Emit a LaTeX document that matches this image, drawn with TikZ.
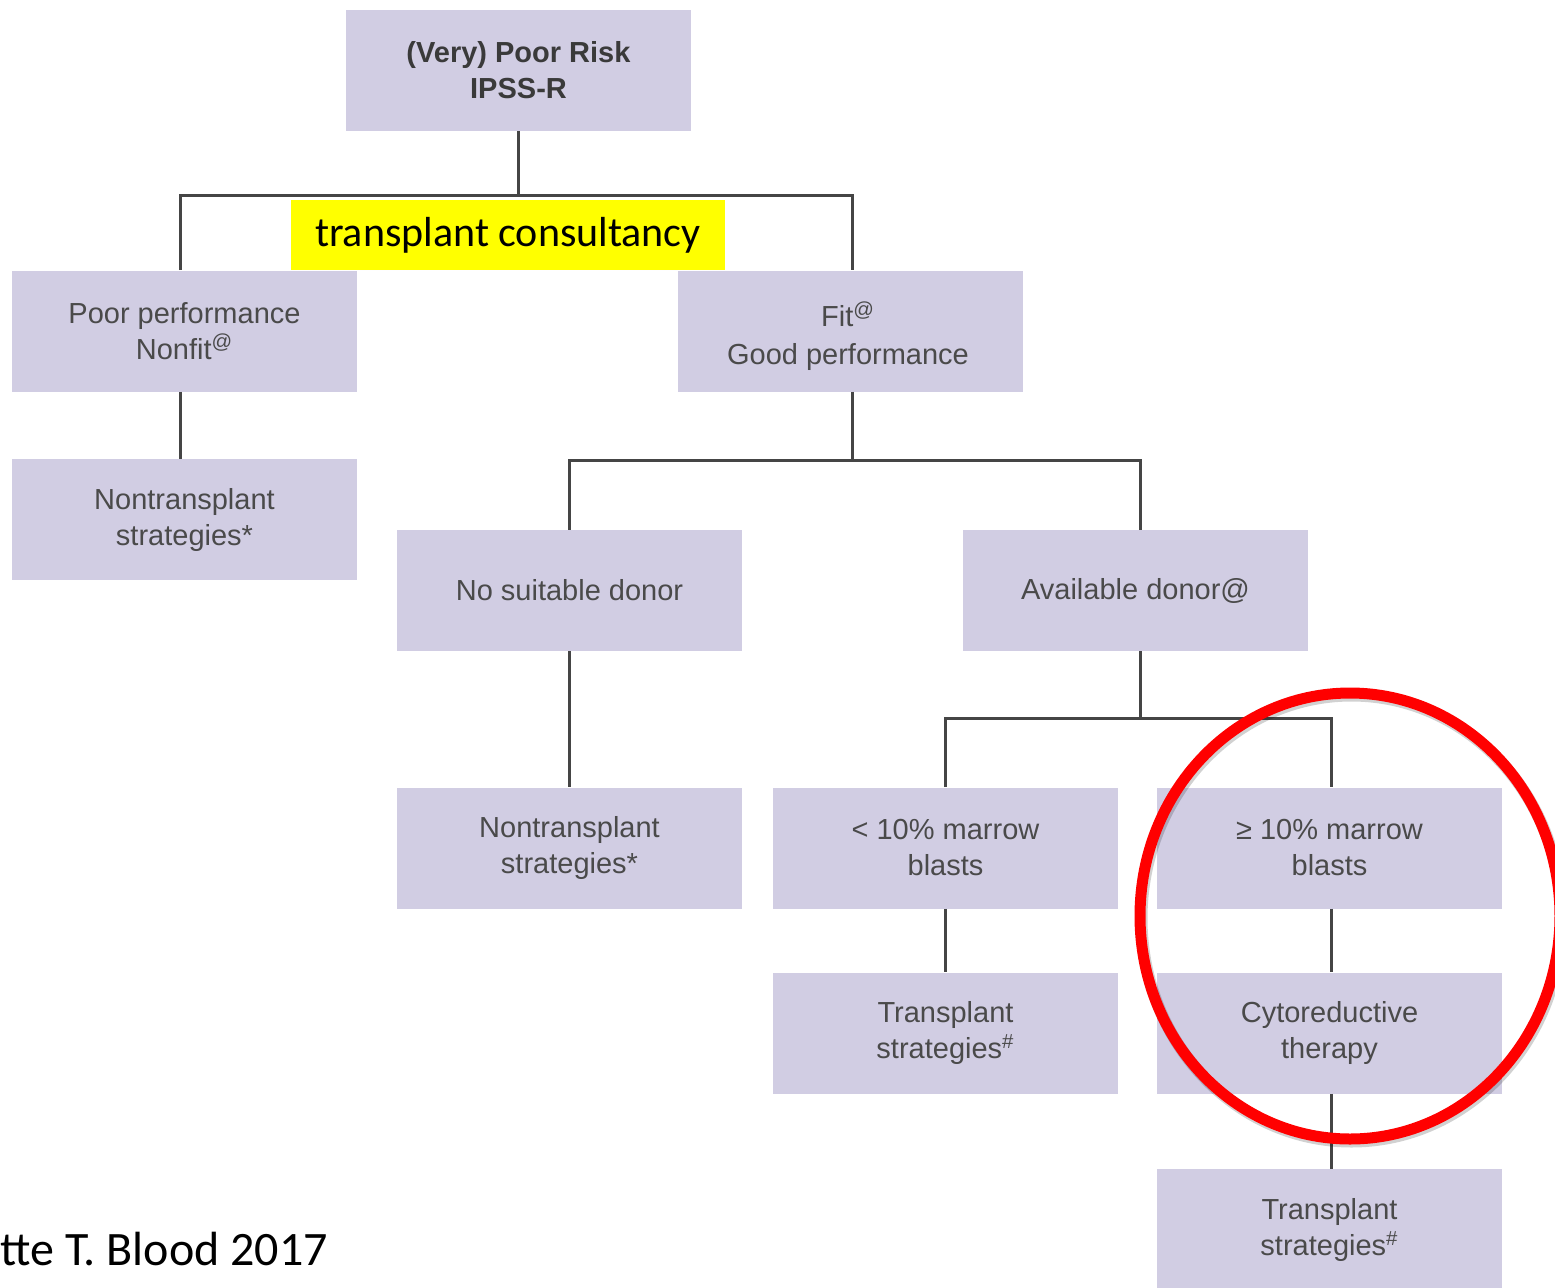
\documentclass[tikz,border=0pt]{standalone}
\usepackage{fontspec}
\setmainfont{Liberation Sans}
\newfontfamily\calibri{Carlito}
\definecolor{boxfill}{HTML}{D1CDE3}
\definecolor{boxtext}{HTML}{4A4A4A}
\definecolor{titletext}{HTML}{3A3A3A}
\definecolor{wirecol}{HTML}{454545}
\definecolor{hilite}{HTML}{FFFF00}
\definecolor{ringred}{HTML}{FF0000}

\begin{document}
\begin{tikzpicture}[x=0.5pt,y=-0.5pt,
  cell/.style={rectangle, fill=boxfill, minimum width=172.5pt, minimum height=60.5pt,
    inner sep=0pt, align=center, text=boxtext, font=\fontsize{14.5}{18}\selectfont},
  celltext/.style={inner sep=0pt, align=center, text=boxtext, font=\fontsize{14.5}{18}\selectfont},
  link/.style={draw=wirecol, line width=1.5pt},
  tag/.style={rectangle, fill=hilite, minimum width=217pt, minimum height=35pt,
    inner sep=0pt, text=black, font=\calibri\fontsize{21}{25}\selectfont}]

\useasboundingbox (0,0) rectangle (1555,1287);
\clip (0,0) rectangle (1555,1287);

% decision boxes
\node[cell, text=titletext, font=\bfseries\fontsize{14.5}{18}\selectfont] (top) at (518.5,70.5) {(Very) Poor Risk\\IPSS-R};
\node[cell] (poor) at (184.5,331) {Poor performance\\Nonfit\textsuperscript{@}};
\node[cell] (fit) at (850,331) {};
\node[celltext] (fitlabel) at (848,336) {Fit\textsuperscript{@}\\[1pt]Good performance};
\node[cell] (ntA) at (184.5,519.5) {Nontransplant\\strategies*};
\node[cell] (nodonor) at (569.5,590.5) {No suitable donor};
\node[cell] (donor) at (1135.5,590.5) {Available donor@};
\node[cell] (ntB) at (569.5,848) {Nontransplant\\strategies*};
\node[cell] (low) at (945.5,848) {< 10\% marrow\\blasts};
\node[cell] (high) at (1329.5,848) {≥ 10\% marrow\\blasts};
\node[cell] (trA) at (945.5,1033) {Transplant\\strategies\textsuperscript{\#}};
\node[cell] (cyto) at (1329.5,1033) {Cytoreductive\\therapy};
\node[cell, minimum height=61pt] (trB) at (1329.5,1230) {Transplant\\strategies\textsuperscript{\#}};

% tree connectors
\draw[link] (top.south) -- ++(0,64) coordinate (j1);
\draw[link] ([xshift=-2.25pt]poor.north) |- (j1) -| ([xshift=1pt]fit.north);
\draw[link] ([xshift=-2.25pt]poor.south) -- ([xshift=-2.25pt]ntA.north);
\draw[link] ([xshift=1pt]fit.south) -- ++(0,69) coordinate (j2);
\draw[link] (nodonor.north) |- (j2) -| ([xshift=2.25pt]donor.north);
\draw[link] (nodonor.south) -- (ntB.north);
\draw[link] ([xshift=2.25pt]donor.south) -- ++(0,67) coordinate (j3);
\draw[link] (low.north) |- (j3) -| ([xshift=0.75pt]high.north);
\draw[link] (low.south) -- (trA.north);
\draw[link] ([xshift=0.75pt]high.south) -- ([xshift=0.75pt]cyto.north);
\draw[link] ([xshift=0.75pt]cyto.south) -- ([xshift=0.75pt]trB.north);

% highlighted label
\node[tag] (consult) at (508,235) {transplant consultancy};

% source line
\node[anchor=base west, inner sep=0pt, font=\calibri\fontsize{24}{28}\selectfont] (cite) at (0,1265) {tte T. Blood 2017};

% red ring around the high-blast branch
\draw[black, opacity=0.18, line width=6pt] (1351.5,918.5) ellipse [x radius=210, y radius=223];
\draw[ringred, line width=5.5pt] (1350,916) ellipse [x radius=210, y radius=223];
\end{tikzpicture}
\end{document}
